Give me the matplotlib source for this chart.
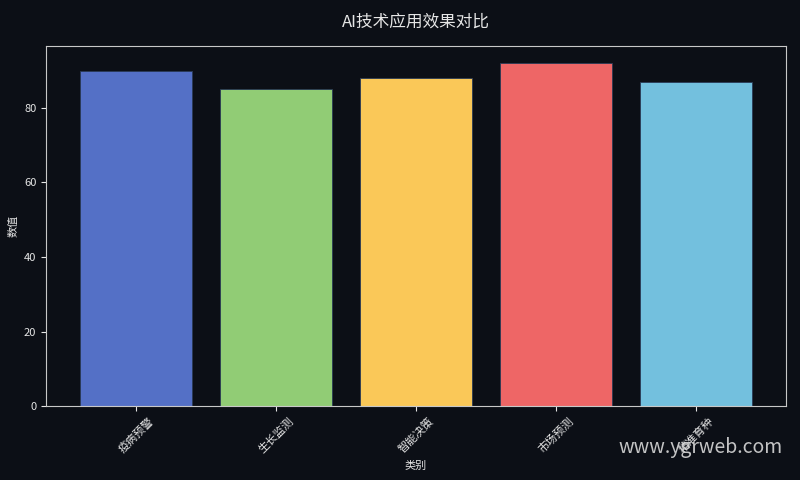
import matplotlib
matplotlib.use("Agg")
import matplotlib.pyplot as plt

plt.rcParams['font.family'] = ['Noto Sans CJK SC', 'DejaVu Sans']

categories = ['疫病预警', '生长监测', '智能决策', '市场预测', '精准育种']
values = [90, 85, 88, 92, 87]
colors = ['#5470c6', '#91cc75', '#fac858', '#ee6666', '#73c0de']

bg = '#0c0f16'
fg = '#e6e6e6'

fig, ax = plt.subplots(figsize=(8, 4.8), dpi=100)
fig.patch.set_facecolor(bg)
ax.set_facecolor(bg)

ax.bar(categories, values, color=colors, width=0.8, edgecolor='#2a3a55', linewidth=0.6)

ax.set_title('AI技术应用效果对比', color=fg, fontsize=12, pad=14)
ax.set_xlabel('类别', color=fg, fontsize=8)
ax.set_ylabel('数值', color=fg, fontsize=8)
ax.tick_params(axis='both', colors=fg, labelsize=8)
ax.tick_params(axis='x', labelrotation=45)
for spine in ax.spines.values():
    spine.set_color('#c8c8c8')

fig.subplots_adjust(left=0.0575, right=0.9825, top=0.904, bottom=0.154)

fig.text(0.876, 0.067, 'www.ygrweb.com', color='#d8d8d8', fontsize=14,
         ha='center', va='center', alpha=0.9)

fig.savefig('out.png', facecolor=bg)
